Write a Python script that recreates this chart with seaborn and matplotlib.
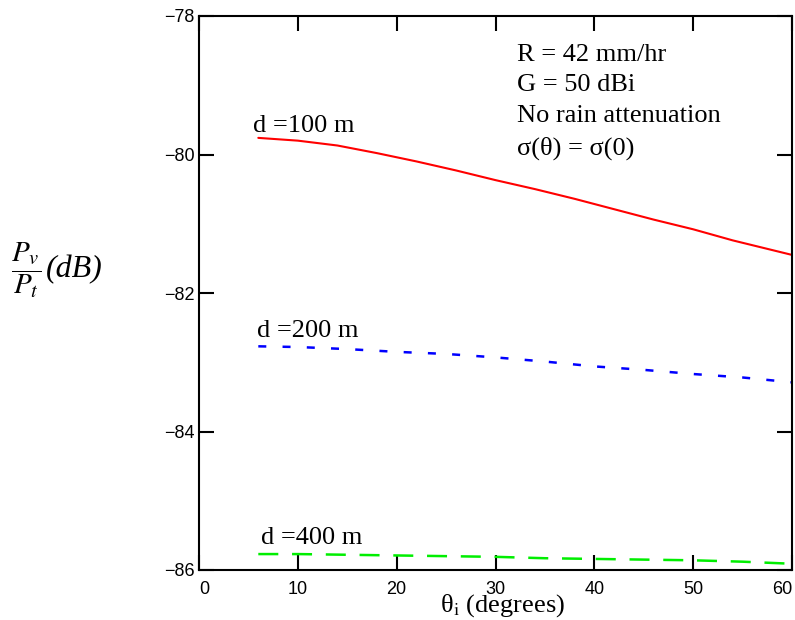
import matplotlib
matplotlib.use("Agg")
import matplotlib.pyplot as plt
import seaborn as sns
import pandas as pd
from matplotlib import font_manager

# ---- data ----
theta_deg = [6, 10, 14, 18, 22, 26, 30, 34, 38, 42, 46, 50, 54, 58, 60]
p_100m = [-79.76, -79.80, -79.87, -79.98, -80.10, -80.23, -80.37, -80.50,
          -80.64, -80.79, -80.94, -81.08, -81.24, -81.38, -81.45]
theta_deg_b = [6, 10, 15, 20, 25, 30, 35, 40, 45, 50, 55, 60]
p_200m = [-82.77, -82.78, -82.81, -82.85, -82.88, -82.93, -82.99, -83.06,
          -83.11, -83.17, -83.22, -83.29]
p_400m = [-85.77, -85.77, -85.78, -85.79, -85.80, -85.81, -85.83, -85.84,
          -85.85, -85.86, -85.88, -85.91]
series_labels = ["d =100 m", "d =200 m", "d =400 m"]
x_ticks = [0, 10, 20, 30, 40, 50, 60]
y_ticks = [-86, -84, -82, -80, -78]
notes = ["R = 42 mm/hr", "G = 50 dBi", "No rain attenuation", "σ(θ) = σ(0)"]

sns.set_style("ticks")
names = {f.name for f in font_manager.fontManager.ttflist}
tick_font = "Liberation Sans Narrow" if "Liberation Sans Narrow" in names else "Liberation Sans"
plt.rcParams["font.family"] = ["Liberation Serif", "DejaVu Serif"]
plt.rcParams["mathtext.fontset"] = "stix"
plt.rcParams["text.color"] = "black"

fig = plt.figure(figsize=(7.95, 6.2), dpi=100)
ax = fig.add_axes([199 / 795, 1 - 570 / 620, 593 / 795, 554 / 620])

df1 = pd.DataFrame({"x": theta_deg, "y": p_100m})
df2 = pd.DataFrame({"x": theta_deg_b, "y": p_200m})
df3 = pd.DataFrame({"x": theta_deg_b, "y": p_400m})

sns.lineplot(data=df1, x="x", y="y", ax=ax, color="#ff0000", lw=1.5)
l2 = sns.lineplot(data=df2, x="x", y="y", ax=ax, color="#0000ff", lw=1.8).lines[-1]
l2.set_dashes((3.2, 6.5))
l3 = sns.lineplot(data=df3, x="x", y="y", ax=ax, color="#00ee00", lw=1.8).lines[-1]
l3.set_dashes((8, 5.5))

ax.set_xlim(0, 60)
ax.set_ylim(-86, -78)
ax.set_xticks(x_ticks)
ax.set_yticks(y_ticks)
ax.set_xlabel("")
ax.set_ylabel("")
for s in ax.spines.values():
    s.set_visible(True)
    s.set_linewidth(1.5)
    s.set_color("black")
ax.tick_params(direction="in", length=11, width=1.5, top=True, right=True,
               colors="black", labelsize=13)
ax.tick_params(axis="x", pad=8)
ax.tick_params(axis="y", pad=3)
for lab in ax.get_xticklabels() + ax.get_yticklabels():
    lab.set_fontfamily(tick_font)
xl = ax.get_xticklabels()
xl[0].set_horizontalalignment("left")
xl[-1].set_horizontalalignment("right")

# curve labels
ax.text(5.47, -79.68, series_labels[0], fontsize=19, va="baseline", ha="left")
ax.text(5.9, -82.64, series_labels[1], fontsize=19, va="baseline", ha="left")
ax.text(6.28, -85.63, series_labels[2], fontsize=19, va="baseline", ha="left")

# parameter notes
for t, yb in zip(notes, [-78.65, -79.085, -79.53, -80.0]):
    ax.text(32.2, yb, t, fontsize=19, va="baseline", ha="left")

# axis titles
fig.text(502 / 795, 1 - 612 / 620, r"θ$_{\mathrm{i}}$ (degrees)", fontsize=19,
         ha="center", va="baseline")
fig.text(11 / 795, 1 - 270 / 620, r"$\dfrac{P_v}{P_t}$", fontsize=21,
         ha="left", va="center")
fig.text(46 / 795, 1 - 270 / 620, "(dB)", fontsize=23, style="italic",
         ha="left", va="center")

fig.savefig("out.png", dpi=100)
